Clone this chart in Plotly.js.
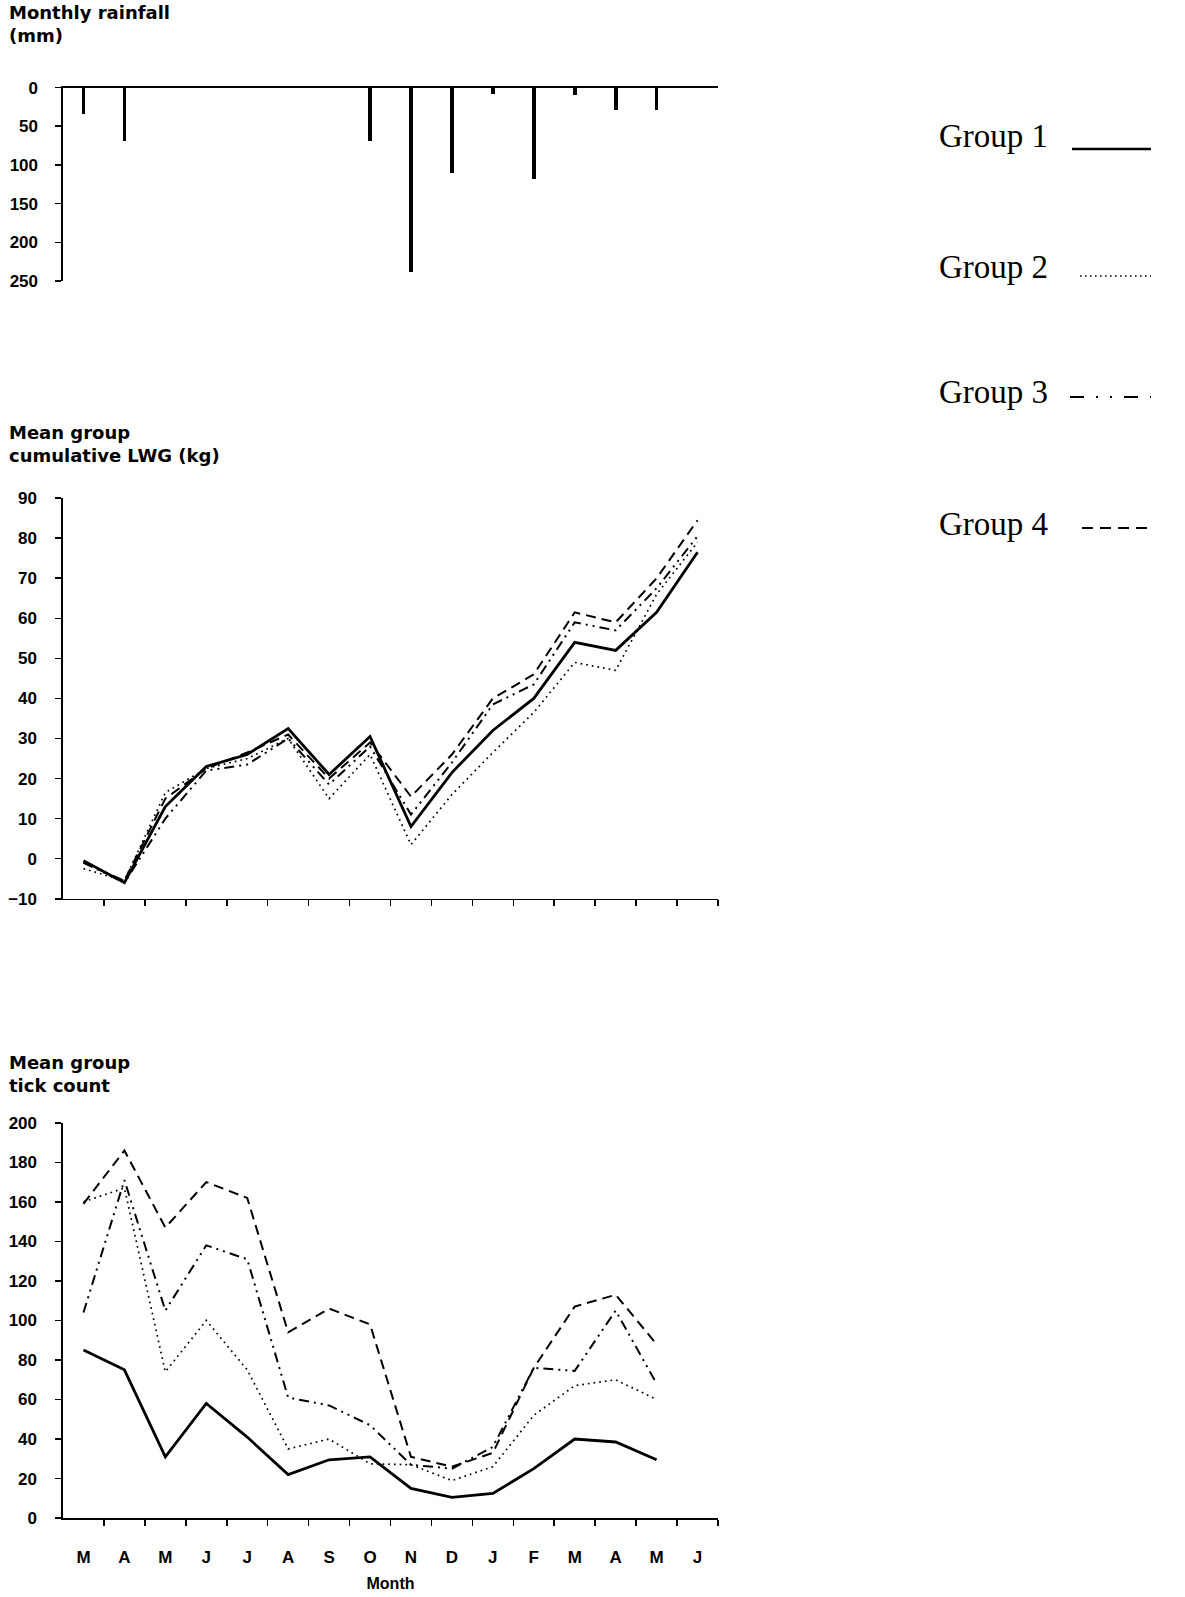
<!DOCTYPE html>
<html><head><meta charset="utf-8">
<script src="https://cdn.plot.ly/plotly-3.0.1.min.js"></script>
<style>html,body{margin:0;padding:0;background:#fff}#chart{width:1185px;height:1597px}</style>
</head><body><div id="chart"></div>
<script>
// ---- data ----
const months = ['M','A','M','J','J','A','S','O','N','D','J','F','M','A','M','J'];
const rainfall = [34, 69, 0, 0, 0, 0, 0, 69, 238, 111, 8, 118, 10, 29, 29, 0];

const groupNames = ['Group 1','Group 2','Group 3','Group 4'];

const lwgG1 = [-0.5, -6, 13, 23, 26, 32.5, 21, 30.5, 8, 21.5, 32, 40, 54, 52, 61.5, 76.5];
const lwgG2 = [-2.5, -5.5, 16.5, 22.5, 25, 30, 15, 26, 3.5, 16, 26.5, 36.5, 49, 47, 66, 79];
const lwgG3 = [-1, -6, 10, 22, 23.5, 30, 18.5, 28, 11, 24, 38.5, 43.5, 59, 57, 67.5, 80.5];
const lwgG4 = [-1, -5.5, 15, 22.5, 26.5, 31, 20, 29, 15.5, 26, 40, 46, 61.5, 59, 70, 84.5];

const tickG1 = [85, 75, 31, 58, 41, 22, 29.5, 31, 15, 10.5, 12.5, 25, 40, 38.5, 29.5];
const tickG2 = [160, 167, 74, 100, 75, 35, 40, 27.5, 27, 19, 26, 52, 67, 70, 60];
const tickG3 = [104, 171, 105, 138, 131, 61, 57, 47, 27, 25, 36, 76, 74.5, 105, 68];
const tickG4 = [159, 186, 147, 170, 162, 94, 106, 98, 31, 26, 33, 76, 107, 113, 88];

const rainTicks = [0, 50, 100, 150, 200, 250];
const lwgTicks = [-10, 0, 10, 20, 30, 40, 50, 60, 70, 80, 90];
const countTicks = [0, 20, 40, 60, 80, 100, 120, 140, 160, 180, 200];

// ---- helpers / styles ----
const W = 1185, H = 1597;
const px = v => v / W, py = v => 1 - v / H;
const xIdx = months.map((_, i) => i);
const bounds = months.map((_, i) => i + 0.5);

const styles = [
  {color:'#000', width:2.8, dash:'solid'},
  {color:'#000', width:1.7, dash:'1.7px,4px'},
  {color:'#000', width:2, dash:'10px,5px,2px,5px,2px,5px'},
  {color:'#000', width:2, dash:'10px,6px'}
];
const legendStyles = [
  {color:'#000', width:2.6, dash:'solid'},
  {color:'#000', width:1.6, dash:'1.6px,3.4px'},
  {color:'#000', width:2.2, dash:'14px,12px,2px,12px,2px,12px'},
  {color:'#000', width:2.2, dash:'11px,7px'}
];

const lwg = [lwgG1, lwgG2, lwgG3, lwgG4];
const cnt = [tickG1, tickG2, tickG3, tickG4];

const traces = [];
traces.push({type:'bar', x:xIdx, y:rainfall, width:0.09, marker:{color:'#000'},
  xaxis:'x', yaxis:'y', showlegend:false, hoverinfo:'skip'});
lwg.forEach((arr, g) => traces.push({type:'scatter', mode:'lines', x:xIdx.slice(0, arr.length), y:arr,
  line:styles[g], name:groupNames[g], xaxis:'x2', yaxis:'y2', showlegend:false}));
cnt.forEach((arr, g) => traces.push({type:'scatter', mode:'lines', x:xIdx.slice(0, arr.length), y:arr,
  line:styles[g], name:groupNames[g], xaxis:'x3', yaxis:'y3', showlegend:false}));

const tickFont = {family:'Liberation Sans, Arial, sans-serif', size:17, color:'#000', weight:700};
const titleFont = {family:'DejaVu Sans, sans-serif', size:18, color:'#000', weight:700};
const xDom = [px(63), px(718)];
const xRange = [-0.5, months.length - 0.5];

const baseY = {showline:true, linecolor:'#000', linewidth:1.6, ticks:'outside', ticklen:6, tickwidth:1.6,
  tickcolor:'#000', showgrid:false, zeroline:false, tickfont:tickFont, tickmode:'array', fixedrange:true};

const layout = {
  width:W, height:H, margin:{l:0, r:0, t:0, b:0}, paper_bgcolor:'#fff', plot_bgcolor:'#fff',
  showlegend:false, bargap:0,
  xaxis:{domain:xDom, range:xRange, anchor:'y', side:'top', showline:true, linecolor:'#000', linewidth:1.6,
    ticks:'', showticklabels:false, showgrid:false, zeroline:false},
  yaxis:Object.assign({}, baseY, {domain:[py(281), py(87.6)], range:[250, 0], tickvals:rainTicks,
    ticklabelstandoff:14, anchor:'x'}),
  xaxis2:{domain:xDom, range:xRange, anchor:'y2', showline:true, linecolor:'#000', linewidth:1.6,
    tickmode:'array', tickvals:bounds, ticks:'outside', ticklen:6, tickwidth:1.6, tickcolor:'#000',
    showticklabels:false, showgrid:false, zeroline:false},
  yaxis2:Object.assign({}, baseY, {domain:[py(898.7), py(498.2)], range:[-10, 90], tickvals:lwgTicks,
    ticklabelstandoff:15, anchor:'x2'}),
  xaxis3:{domain:xDom, range:xRange, anchor:'y3', showline:true, linecolor:'#000', linewidth:1.6,
    tickmode:'array', tickvals:xIdx, ticktext:months, ticks:'', tickfont:tickFont,
    ticklabelstandoff:23,
    minor:{tickmode:'array', tickvals:bounds, ticks:'outside', ticklen:6, tickwidth:1.6, tickcolor:'#000', showgrid:false},
    showgrid:false, zeroline:false,
    title:{text:'Month', font:{family:'Liberation Sans, Arial, sans-serif', size:16, color:'#000', weight:700}, standoff:12}},
  yaxis3:Object.assign({}, baseY, {domain:[py(1518.1), py(1122.8)], range:[0, 200], tickvals:countTicks,
    ticklabelstandoff:15, anchor:'x3'}),
  annotations:[
    {text:'Monthly rainfall<br>(mm)', xref:'paper', yref:'paper', x:px(7), y:py(0), xanchor:'left', yanchor:'top',
      align:'left', showarrow:false, font:titleFont},
    {text:'Mean group<br>cumulative LWG (kg)', xref:'paper', yref:'paper', x:px(7), y:py(420), xanchor:'left', yanchor:'top',
      align:'left', showarrow:false, font:titleFont},
    {text:'Mean group<br>tick count', xref:'paper', yref:'paper', x:px(7), y:py(1050), xanchor:'left', yanchor:'top',
      align:'left', showarrow:false, font:titleFont}
  ],
  shapes:[]
};

const legendY = [136, 267, 392, 524];
const legendLineY = [149, 276, 397, 528];
const legendX0 = [1072, 1080, 1070, 1082];
groupNames.forEach((name, g) => {
  layout.annotations.push({text:name, xref:'paper', yref:'paper', x:px(937), y:py(legendY[g]),
    xanchor:'left', yanchor:'middle', showarrow:false,
    font:{family:'Liberation Serif, Times New Roman, serif', size:33, color:'#000'}});
  layout.shapes.push({type:'line', xref:'paper', yref:'paper', x0:px(legendX0[g]), x1:px(1151),
    y0:py(legendLineY[g]), y1:py(legendLineY[g]), line:legendStyles[g]});
});

Plotly.newPlot('chart', traces, layout, {staticPlot:true});
</script>
</body></html>
